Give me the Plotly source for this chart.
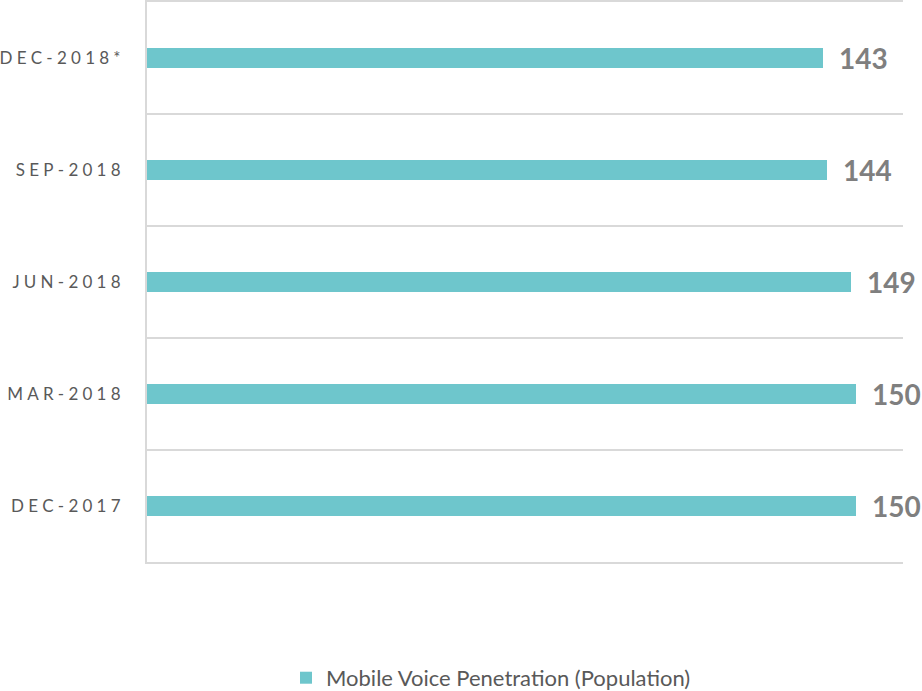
import plotly.graph_objects as go

# Quarterly mobile voice penetration (per 100 population), oldest first
periods = ["DEC-2017", "MAR-2018", "JUN-2018", "SEP-2018", "DEC-2018*"]
penetration = [150, 150, 149, 144, 143]
series_name = "Mobile Voice Penetration (Population)"

BAR_COLOR = "#6EC6CC"
GRID_COLOR = "#D9D9D9"


def spaced(label):
    # widen the tick labels with four-per-em spaces between letters
    return "\u2005".join(label)


fig = go.Figure()
fig.add_trace(go.Bar(
    y=periods,
    x=penetration,
    orientation="h",
    width=0.18,
    marker=dict(color=BAR_COLOR, line=dict(width=0)),
    name=series_name,
    showlegend=True,
    hoverinfo="x+y",
))

# value labels just past the end of each bar
for p, v in zip(periods, penetration):
    fig.add_annotation(
        x=v, y=p, xref="x", yref="y",
        text=f"<b>{v}</b>", showarrow=False,
        xanchor="left", yanchor="middle", xshift=14,
        font=dict(family="Lato", size=28, color="#7F7F7F"),
    )

fig.update_layout(
    width=922, height=691,
    margin=dict(l=147, r=19, t=2, b=129, autoexpand=False),
    paper_bgcolor="white", plot_bgcolor="white",
    bargap=0,
    showlegend=True,
    legend=dict(
        orientation="h", x=0.455, xanchor="center", y=-0.207, yanchor="middle",
        font=dict(family="Lato", size=22, color="#595959"),
        itemwidth=30,
    ),
    xaxis=dict(
        range=[0, 160], showgrid=False, zeroline=False,
        showticklabels=False, ticks="", fixedrange=True,
        showline=True, linecolor=GRID_COLOR, linewidth=2, mirror=True,
    ),
    yaxis=dict(
        type="category", categoryorder="array", categoryarray=periods,
        tickmode="array", tickvals=periods, ticktext=[spaced(p) for p in periods],
        tickson="boundaries", ticks="",
        showgrid=True, gridcolor=GRID_COLOR, gridwidth=2,
        showline=True, linecolor=GRID_COLOR, linewidth=2,
        ticklabelstandoff=21, automargin=False,
        tickfont=dict(family="Lato", size=17, color="#595959"),
        range=[-0.5, 4.5], fixedrange=True,
    ),
)

fig.write_html("out.html")
